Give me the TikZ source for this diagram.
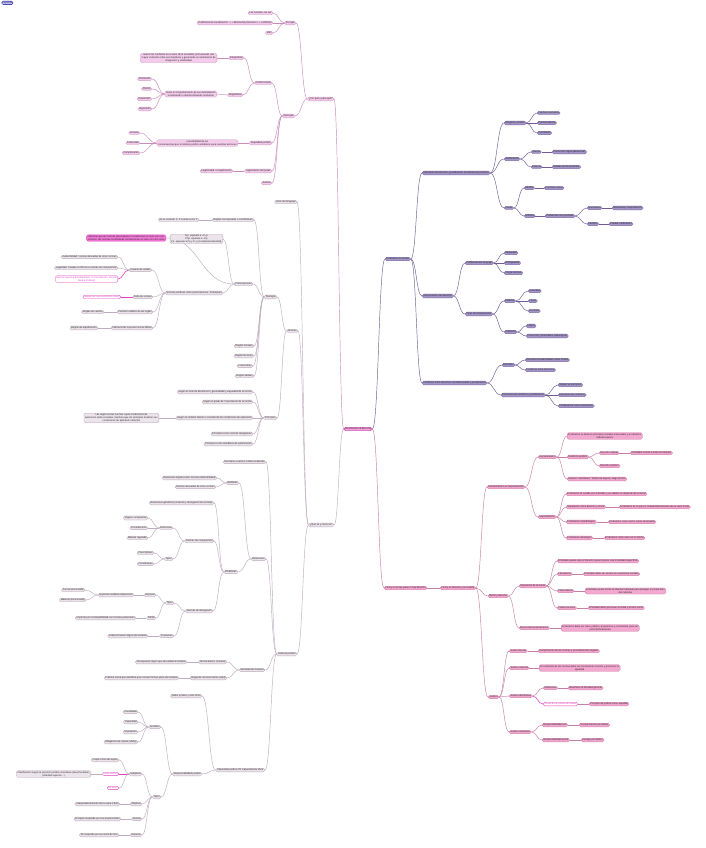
\documentclass[tikz,border=0pt]{standalone}
\usepackage{fontspec}
\setmainfont{Liberation Sans}
\usetikzlibrary{calc,backgrounds}
\definecolor{pkF}{HTML}{F2CCEA}\definecolor{pkD}{HTML}{D49CC8}\definecolor{pkE}{HTML}{C98BBD}
\definecolor{grF}{HTML}{ECE4EB}\definecolor{grD}{HTML}{B9AAB9}\definecolor{grE}{HTML}{BDAEBE}
\definecolor{puF}{HTML}{A596C8}\definecolor{puD}{HTML}{7B6AA4}\definecolor{puE}{HTML}{6D5D92}
\definecolor{prF}{HTML}{F3A8CF}\definecolor{prD}{HTML}{D080AA}\definecolor{prE}{HTML}{C77FA3}
\definecolor{mgF}{HTML}{F27AD8}\definecolor{mgD}{HTML}{E040C0}
\definecolor{rtF}{HTML}{F5A3DC}\definecolor{rtD}{HTML}{D35BB5}
\tikzset{
 base/.style={rounded corners=1.5pt, inner ysep=0.7pt, inner xsep=1.3pt, line width=0.3pt, align=center,
   font=\fontsize{2.45}{2.9}\selectfont, text=black!85},
 pk/.style={base, fill=pkF, draw=pkD, anchor=east},
 gr/.style={base, fill=grF, draw=grD, anchor=east},
 pu/.style={base, fill=puF, draw=puD, anchor=west},
 pr/.style={base, fill=prF, draw=prD, anchor=west},
 olL/.style={base, fill=white, draw=mgD, text=mgD, anchor=east},
 olR/.style={base, fill=white, draw=mgD, text=mgD, anchor=west},
 mag/.style={base, fill=mgF, draw=mgD, line width=0.5pt, anchor=east},
 rootn/.style={base, fill=rtF, draw=rtD, line width=0.6pt},
 ePk/.style={draw=pkE, line width=0.45pt},
 eGr/.style={draw=grE, line width=0.45pt},
 ePu/.style={draw=puE, line width=0.45pt},
 ePr/.style={draw=prE, line width=0.45pt},
 eMg/.style={draw=mgD, line width=0.55pt},
}
\newcommand\mmL[3][]{\draw[#1] let \p1=(#2.west), \p2=(#3.east) in (\p1) .. controls ({(\x1+\x2)/2},\y1) and ({(\x1+\x2)/2},\y2) .. (\p2);}
\newcommand\mmR[3][]{\draw[#1] let \p1=(#2.east), \p2=(#3.west) in (\p1) .. controls ({(\x1+\x2)/2},\y1) and ({(\x1+\x2)/2},\y2) .. (\p2);}
\begin{document}
\begin{tikzpicture}[x=1pt,y=-1pt]
\useasboundingbox (0,0) rectangle (706,848);
\node[base, fill=blue!25, draw=blue!60!black, anchor=north west, inner sep=0.6pt] (leg) at (1.5,1) {\,Leyenda\,};
% root
\node[rootn] (root) at (358,429) {Introducción al derecho};
% ===== top-left branch
\node[pk] (porq) at (334,99) {¿Por qué y para qué?};
\node[pk] (pq) at (296,23) {Por qué};
\node[pk] (pq1) at (273,13) {Los sociales, los ser};
\node[pk] (pq2) at (273,23) {Problemas de coordinación: + + dilema del prisionero + + conflictos};
\node[pk] (pq3) at (273,33) {Vies};
\node[pk] (pa) at (295,116) {Para qué};
\node[pk] (cs) at (272,83) {Control social};
\node[pk] (int) at (244,58) {Integradora};
\node[pk] (intd) at (217,58) {reducir los conflictos en el seno de la sociedad, promoviendo una\\mayor cohesión entre sus miembros y generando un sentimiento de\\integración y solidaridad};
\node[pk] (reg) at (243,95) {Reguladora};
\node[pk] (regd) at (217,94) {Guiar el comportamiento de sus destinatarios\\incentivando o desincentivando conductas};
\node[pk] (prom) at (152,79) {Promoción};
\node[pk] (prem) at (152,89) {Premio};
\node[pk] (prev) at (152,99) {Prevención};
\node[pk] (repr) at (152,109) {Represión};
\node[pk] (sj) at (272,143) {Seguridad jurídica};
\node[pk] (sjd) at (238,143) {previsibilidad de las\\consecuencias que el sistema jurídico establece para nuestras acciones};
\node[pk] (cer) at (140,133) {Certeza};
\node[pk] (pub) at (140,143) {Publicidad};
\node[pk] (cum) at (140,153) {Cumplimiento};
\node[pk] (lp) at (272,171) {Legitimación del poder};
\node[pk] (lpd) at (233,171) {Legitimidad \ vs legitimación};
\node[pk] (jus0) at (272,183) {Justicia};
% ===== lower-left branch
\node[gr] (que) at (334,525) {¿Qué es y cómo es?};
\node[gr] (usos) at (297,202) {Usos del lenguaje};
\node[gr] (nor) at (298,331) {Normas};
\node[gr] (tip) at (277,297) {Tipología};
\node[gr] (rcc) at (254,220) {Reglas conceptuales o constitutivas};
\node[gr] (rccd) at (199,220) {En el contexto C, X cuenta como Y};
\node[gr] (pre) at (253,284) {Prescripciones};
\node[gr] (op) at (223,239) {Op: equivale a ¬P¬p\\Php: equivale a ¬Pp\\Fp: equivale a Pp y P¬p (complementariedad)};
\node[mag] (mag) at (166,238) {Mientras que las normas prescriptivas correlacionan un caso con una\\solución, las normas constitutivas correlacionan un caso con otro caso};
\node[gr] (njp) at (223,293) {Normas jurídicas como prescripciones. Problemas};
\node[gr] (cv) at (152,270) {Cadena de validez};
\node[gr] (cv1) at (118,257) {Deducibilidad: normas derivadas de otras normas};
\node[gr] (cv2) at (118,268) {Legalidad: creadas conforme a normas de competencia};
\node[olL] (cv3) at (118,279) {Norma suprema (fundamental): la Constitución. Norma\\básica (Kelsen)};
\node[gr] (fc) at (153,297) {Falta de certeza};
\node[olL] (fcd) at (121,297) {Reglas de reconocimiento (Hart)};
\node[gr] (ce) at (153,312) {Carácter estático de las reglas};
\node[gr] (ced) at (104,312) {Reglas de cambio};
\node[gr] (ip) at (153,328) {Ineficacia de la presión social difusa};
\node[gr] (ipd) at (98,328) {Reglas de adjudicación};
\node[gr] (rm) at (254,346) {Reglas morales};
\node[gr] (rt) at (254,356) {Reglas técnicas};
\node[gr] (cos) at (253,366) {Costumbres};
\node[gr] (ri) at (254,376) {Reglas ideales};
\node[gr] (pri) at (277,418) {Principios};
\node[gr] (p1) at (253,392) {Según el nivel de abstracción, generalidad y vaguedad de la norma};
\node[gr] (p2) at (253,402) {Según el grado de `importancia' de la norma};
\node[gr] (p3) at (253,418) {Según el carácter abierto o cerrado de las condiciones de aplicación};
\node[gr] (p3d) at (159,418) {Las reglas serían normas cuyas condiciones de\\aplicación están cerradas, mientras que los principios tendrían sus\\condiciones de aplicación abiertas};
\node[gr] (p4) at (253,434) {Principios como normas categóricas};
\node[gr] (p5) at (253,444) {Principios como mandatos de optimización};
\node[gr] (sis) at (297,654) {Sistema jurídico};
\node[gr] (nci) at (266,462) {Normativo coactivo institucionalizado};
\node[gr] (rel) at (266,559) {Relaciones};
\node[gr] (est) at (239,483) {Estáticas};
\node[gr] (est1) at (217,478) {Relaciones lógicas entre normas (deducibilidad)};
\node[gr] (est2) at (216,487) {Normas derivadas de otras normas};
\node[gr] (din) at (238,572) {Dinámicas};
\node[gr] (din1) at (214,503) {Relaciones genéticas (creación y derogación de normas)};
\node[gr] (nc) at (214,541) {Normas de competencia};
\node[gr] (ncs) at (173,528) {Estructura};
\node[gr] (oc) at (148,518) {Órgano competente};
\node[gr] (proc) at (148,528) {Procedimiento};
\node[gr] (mat) at (148,538) {Materia regulada};
\node[gr] (nct) at (173,559) {Tipos};
\node[gr] (pres) at (154,553) {Prescriptivas};
\node[gr] (cons) at (154,564) {Constitutivas};
\node[gr] (nd) at (213,611) {Normas de derogación};
\node[gr] (ndt) at (174,603) {Tipos};
\node[gr] (exp) at (156,595) {Expresa};
\node[gr] (expd) at (134,595) {Explícita mediante disposición};
\node[gr] (fn) at (85,590) {Formal (nominada)};
\node[gr] (mi) at (86,600) {Material (innominada)};
\node[gr] (tac) at (156,618) {Tácita};
\node[gr] (tacd) at (136,618) {Implícita por incompatibilidad con normas posteriores};
\node[gr] (ndp) at (174,636) {Problemas};
\node[gr] (ndpd) at (148,636) {Indeterminación lógica del sistema};
\node[gr] (ids) at (265,670) {Identidad del sistema};
\node[gr] (nb) at (227,662) {Norma básica \ (Kelsen)};
\node[gr] (nbd) at (187,662) {Presupuesto lógico que da unidad al sistema};
\node[gr] (rr) at (227,678) {Regla de reconocimiento (Hart)};
\node[gr] (rrd) at (179,678) {Práctica social que identifica qué normas forman parte del sistema};
\node[gr] (cap) at (265,770) {Capacidad jurídica VS Capacidad de obrar};
\node[gr] (deb) at (202,696) {Deber jurídico y acto ilícito};
\node[gr] (rj) at (202,774) {Responsabilidad jurídica};
\node[gr] (sen) at (161,727) {Sentidos};
\node[gr] (s1) at (138,712) {Causalidad};
\node[gr] (s2) at (138,722) {Capacidad};
\node[gr] (s3) at (138,732) {Imputación};
\node[gr] (s4) at (138,742) {Obligación de reparar (daño)};
\node[gr] (rt2) at (161,797) {Tipos};
\node[gr] (sub) at (142,774) {Subjetiva};
\node[gr] (sub1) at (119,760) {Culpa o dolo del sujeto};
\node[olL] (hk) at (119,774) {Hans Kelsen};
\node[gr] (hkd) at (91,774) {Clasificación según la posición jurídica correlativa (derecho-deber,\\potestad-sujeción...)};
\node[olL] (ar) at (119,788) {Alf Ross};
\node[gr] (obj) at (142,804) {Objetiva};
\node[gr] (objd) at (120,804) {Independientemente de la culpa o dolo};
\node[gr] (dir) at (142,819) {Directa};
\node[gr] (dird) at (121,819) {El sujeto responde por sus propios actos};
\node[gr] (ind) at (142,835) {Indirecta};
\node[gr] (indd) at (119,835) {Se responde por los actos de otro};
% ===== right purple branch
\node[pu] (acc) at (385,259) {El derecho en acción};
\node[pu] (apl) at (422,173) {Aplicación del derecho y justificación de decisiones jurídicas};
\node[pu] (sil) at (504,123) {Silogismo jurídico};
\node[pu] (sil1) at (537,113) {Premisa normativa};
\node[pu] (sil2) at (537,123) {Premisa fáctica};
\node[pu] (sil3) at (537,133) {Conclusión};
\node[pu] (jf) at (504,159) {Justificación};
\node[pu] (jfi) at (531,152) {Interna};
\node[pu] (jfid) at (552,152) {Corrección lógica (deductiva)};
\node[pu] (jfe) at (531,167) {Externa};
\node[pu] (jfed) at (552,167) {Solidez de las premisas};
\node[pu] (cas) at (504,208) {Casos};
\node[pu] (caf) at (524,188) {Fáciles};
\node[pu] (cafd) at (544,188) {Premisas claras};
\node[pu] (cad) at (524,216) {Difíciles};
\node[pu] (cadd) at (545,216) {Problemas con premisas};
\node[pu] (cn) at (587,208) {Normativos};
\node[pu] (cnd) at (612,208) {Relevancia, interpretación};
\node[pu] (cfa) at (587,224) {Fácticos};
\node[pu] (cfad) at (609,224) {Prueba, calificación};
\node[pu] (itp) at (422,296) {Interpretación del derecho};
\node[pu] (pl) at (465,263) {Problemas del lenguaje};
\node[pu] (pl1) at (504,253) {Vaguedad};
\node[pu] (pl2) at (504,263) {Ambigüedad};
\node[pu] (pl3) at (504,273) {Carga emotiva};
\node[pu] (ti) at (465,314) {Tipos de interpretación};
\node[pu] (te) at (504,301) {Estática};
\node[pu] (te1) at (528,291) {Autoridad};
\node[pu] (te2) at (528,301) {Literal};
\node[pu] (te3) at (528,311) {Doctrinal};
\node[pu] (tdn) at (504,332) {Dinámica};
\node[pu] (td1) at (526,326) {Lógica};
\node[pu] (td2) at (526,336) {Corrección (sistemática, teleológica)};
\node[pu] (con) at (422,383) {Conflictos entre derechos constitucionales y ponderación};
\node[pu] (ej) at (502,365) {Ejemplos};
\node[pu] (ej1) at (525,360) {Derechos fundamentales como límites};
\node[pu] (ej2) at (525,370) {Conflictos entre derechos};
\node[pu] (ecp) at (501,395) {Estructura de conflictos y ponderación};
\node[pu] (ecp1) at (558,385) {Reglas vs principios};
\node[pu] (ecp2) at (558,395) {Estructura de conflictos};
\node[pu] (ecp3) at (558,406) {Ponderación como mecanismo};
% ===== right pink branch
\node[pr] (ley) at (384,588) {La ley no es ley para no hay derecho};
\node[pr] (ldj) at (440,588) {La ley, el Derecho y la Justicia};
\node[pr] (ivi) at (487,487) {Iusnaturalismo vs Iuspositivismo};
\node[pr] (inat) at (538,457) {Iusnaturalismo};
\node[pr] (inat1) at (567,436) {El derecho se basa en principios morales universales y un derecho\\natural superior};
\node[pr] (dual) at (567,457) {Dualismo jurídico};
\node[pr] (dn) at (599,453) {Derecho natural};
\node[pr] (dnd) at (630,453) {Inmutable común a todo ser humano};
\node[pr] (dp) at (599,466) {Derecho positivo};
\node[pr] (aut) at (567,479) {Autores: aristotélico, Tomás de Aquino, Hugo Grocio};
\node[pr] (ipos) at (538,517) {Iuspositivismo};
\node[pr] (ipos1) at (566,494) {El derecho es creado por el Estado y su validez no depende de la moral};
\node[pr] (sep) at (566,507) {Separación entre derecho y moral};
\node[pr] (sepd) at (619,507) {El derecho es lo que es, independientemente de su valor moral};
\node[pr] (pm) at (566,522) {Positivismo metodológico};
\node[pr] (pmd) at (608,522) {El derecho como hecho social observable};
\node[pr] (pid) at (566,538) {Positivismo ideológico};
\node[pr] (pidd) at (604,538) {El derecho como valor en sí mismo};
\node[pr] (myd) at (488,596) {Moral y derecho};
\node[pr] (imp) at (519,586) {Imposición de la moral};
\node[pr] (imp1) at (557,561) {El Estado puede usar el Derecho para imponer una moralidad específica};
\node[pr] (lib) at (557,574) {Liberalismo};
\node[pr] (libd) at (583,574) {El Estado debe ser neutral en cuestiones morales};
\node[pr] (pat) at (557,591) {Paternalismo};
\node[pr] (patd) at (585,591) {El Estado puede limitar la libertad individual para proteger el propio bien\\del individuo};
\node[pr] (per) at (557,608) {Perfeccionismo};
\node[pr] (perd) at (588,608) {El Estado debe promover la virtud y el bien moral};
\node[pr] (mid) at (519,628) {Moral interna del derecho};
\node[pr] (midd) at (561,628) {El derecho debe ser claro, público, prospectivo y consistente para ser\\justo (formalmente)};
\node[pr] (jus) at (488,697) {Justicia};
\node[pr] (jfo) at (509,651) {Justicia formal};
\node[pr] (jfod) at (538,651) {Cumplimiento de las normas y procedimientos legales};
\node[pr] (jma) at (509,668) {Justicia material};
\node[pr] (jmad) at (539,668) {El contenido de las normas debe ser moralmente correcto y promover la\\igualdad};
\node[pr] (jdi) at (509,696) {Justicia distributiva};
\node[pr] (uti) at (543,688) {Utilitarismo};
\node[pr] (utid) at (568,688) {Maximizar la felicidad general};
\node[olR] (raw) at (543,704) {Teoría de la justicia de Rawls};
\node[pr] (rawd) at (589,704) {Principio de justicia como equidad};
\node[pr] (jre) at (509,732) {Justicia retributiva};
\node[pr] (rc) at (542,725) {Responsabilidad civil};
\node[pr] (rcd) at (579,725) {Compensación por daños};
\node[pr] (rpn) at (542,740) {Responsabilidad penal};
\node[pr] (rpnd) at (581,740) {Castigo por delitos};
% ===== edges
\begin{pgfonlayer}{background}
\fill[white] (0,0) rectangle (706,848);
\mmL[ePk]{root}{porq}
\mmL[eGr]{root}{que}
\mmR[ePu]{root}{acc}
\mmR[ePr]{root}{ley}
% top-left
\mmL[ePk]{porq}{pq}\mmL[ePk]{porq}{pa}
\mmL[ePk]{pq}{pq1}\mmL[ePk]{pq}{pq2}\mmL[ePk]{pq}{pq3}
\mmL[ePk]{pa}{cs}\mmL[ePk]{pa}{sj}\mmL[ePk]{pa}{lp}\mmL[ePk]{pa}{jus0}
\mmL[ePk]{cs}{int}\mmL[ePk]{cs}{reg}
\mmL[ePk]{int}{intd}\mmL[ePk]{reg}{regd}
\mmL[ePk]{regd}{prom}\mmL[ePk]{regd}{prem}\mmL[ePk]{regd}{prev}\mmL[ePk]{regd}{repr}
\mmL[ePk]{sj}{sjd}
\mmL[ePk]{sjd}{cer}\mmL[ePk]{sjd}{pub}\mmL[ePk]{sjd}{cum}
\mmL[ePk]{lp}{lpd}
% lower-left
\mmL[eGr]{que}{usos}\mmL[eGr]{que}{nor}\mmL[eGr]{que}{sis}
\mmL[eGr]{nor}{tip}\mmL[eGr]{nor}{pri}
\mmL[eGr]{tip}{rcc}\mmL[eGr]{tip}{pre}\mmL[eGr]{tip}{rm}\mmL[eGr]{tip}{rt}\mmL[eGr]{tip}{cos}\mmL[eGr]{tip}{ri}
\mmL[eGr]{rcc}{rccd}
\mmL[eGr]{pre}{op}\mmL[eGr]{pre}{mag}\mmL[eGr]{pre}{njp}
\mmL[eGr]{njp}{cv}\mmL[eGr]{njp}{fc}\mmL[eGr]{njp}{ce}\mmL[eGr]{njp}{ip}
\mmL[eGr]{cv}{cv1}\mmL[eGr]{cv}{cv2}\mmL[eMg]{cv}{cv3}
\mmL[eMg]{fc}{fcd}\mmL[eGr]{ce}{ced}\mmL[eGr]{ip}{ipd}
\mmL[eGr]{pri}{p1}\mmL[eGr]{pri}{p2}\mmL[eGr]{pri}{p3}\mmL[eGr]{pri}{p4}\mmL[eGr]{pri}{p5}
\mmL[eGr]{p3}{p3d}
\mmL[eGr]{sis}{nci}\mmL[eGr]{sis}{rel}\mmL[eGr]{sis}{ids}\mmL[eGr]{sis}{cap}
\mmL[eGr]{rel}{est}\mmL[eGr]{rel}{din}
\mmL[eGr]{est}{est1}\mmL[eGr]{est}{est2}
\mmL[eGr]{din}{din1}\mmL[eGr]{din}{nc}\mmL[eGr]{din}{nd}
\mmL[eGr]{nc}{ncs}\mmL[eGr]{nc}{nct}
\mmL[eGr]{ncs}{oc}\mmL[eGr]{ncs}{proc}\mmL[eGr]{ncs}{mat}
\mmL[eGr]{nct}{pres}\mmL[eGr]{nct}{cons}
\mmL[eGr]{nd}{ndt}\mmL[eGr]{nd}{ndp}
\mmL[eGr]{ndt}{exp}\mmL[eGr]{ndt}{tac}
\mmL[eGr]{exp}{expd}\mmL[eGr]{expd}{fn}\mmL[eGr]{expd}{mi}
\mmL[eGr]{tac}{tacd}\mmL[eGr]{ndp}{ndpd}
\mmL[eGr]{ids}{nb}\mmL[eGr]{ids}{rr}
\mmL[eGr]{nb}{nbd}\mmL[eGr]{rr}{rrd}
\mmL[eGr]{cap}{deb}\mmL[eGr]{cap}{rj}
\mmL[eGr]{rj}{sen}\mmL[eGr]{rj}{rt2}
\mmL[eGr]{sen}{s1}\mmL[eGr]{sen}{s2}\mmL[eGr]{sen}{s3}\mmL[eGr]{sen}{s4}
\mmL[eGr]{rt2}{sub}\mmL[eGr]{rt2}{obj}\mmL[eGr]{rt2}{dir}\mmL[eGr]{rt2}{ind}
\mmL[eGr]{sub}{sub1}\mmL[eMg]{sub}{hk}\mmL[eGr]{sub}{ar}
\mmL[eGr]{hk}{hkd}
\mmL[eGr]{obj}{objd}\mmL[eGr]{dir}{dird}\mmL[eGr]{ind}{indd}
% right purple
\mmR[ePu]{acc}{apl}\mmR[ePu]{acc}{itp}\mmR[ePu]{acc}{con}
\mmR[ePu]{apl}{sil}\mmR[ePu]{apl}{jf}\mmR[ePu]{apl}{cas}
\mmR[ePu]{sil}{sil1}\mmR[ePu]{sil}{sil2}\mmR[ePu]{sil}{sil3}
\mmR[ePu]{jf}{jfi}\mmR[ePu]{jf}{jfe}\mmR[ePu]{jfi}{jfid}\mmR[ePu]{jfe}{jfed}
\mmR[ePu]{cas}{caf}\mmR[ePu]{cas}{cad}\mmR[ePu]{caf}{cafd}\mmR[ePu]{cad}{cadd}
\mmR[ePu]{cadd}{cn}\mmR[ePu]{cadd}{cfa}\mmR[ePu]{cn}{cnd}\mmR[ePu]{cfa}{cfad}
\mmR[ePu]{itp}{pl}\mmR[ePu]{itp}{ti}
\mmR[ePu]{pl}{pl1}\mmR[ePu]{pl}{pl2}\mmR[ePu]{pl}{pl3}
\mmR[ePu]{ti}{te}\mmR[ePu]{ti}{tdn}
\mmR[ePu]{te}{te1}\mmR[ePu]{te}{te2}\mmR[ePu]{te}{te3}
\mmR[ePu]{tdn}{td1}\mmR[ePu]{tdn}{td2}
\mmR[ePu]{con}{ej}\mmR[ePu]{con}{ecp}
\mmR[ePu]{ej}{ej1}\mmR[ePu]{ej}{ej2}
\mmR[ePu]{ecp}{ecp1}\mmR[ePu]{ecp}{ecp2}\mmR[ePu]{ecp}{ecp3}
% right pink
\mmR[ePr]{ley}{ldj}
\mmR[ePr]{ldj}{ivi}\mmR[ePr]{ldj}{myd}\mmR[ePr]{ldj}{jus}
\mmR[ePr]{ivi}{inat}\mmR[ePr]{ivi}{ipos}
\mmR[ePr]{inat}{inat1}\mmR[ePr]{inat}{dual}\mmR[ePr]{inat}{aut}
\mmR[ePr]{dual}{dn}\mmR[ePr]{dual}{dp}\mmR[ePr]{dn}{dnd}
\mmR[ePr]{ipos}{ipos1}\mmR[ePr]{ipos}{sep}\mmR[ePr]{ipos}{pm}\mmR[ePr]{ipos}{pid}
\mmR[ePr]{sep}{sepd}\mmR[ePr]{pm}{pmd}\mmR[ePr]{pid}{pidd}
\mmR[ePr]{myd}{imp}\mmR[ePr]{myd}{mid}
\mmR[ePr]{imp}{imp1}\mmR[ePr]{imp}{lib}\mmR[ePr]{imp}{pat}\mmR[ePr]{imp}{per}
\mmR[ePr]{lib}{libd}\mmR[ePr]{pat}{patd}\mmR[ePr]{per}{perd}
\mmR[ePr]{mid}{midd}
\mmR[ePr]{jus}{jfo}\mmR[ePr]{jus}{jma}\mmR[ePr]{jus}{jdi}\mmR[ePr]{jus}{jre}
\mmR[ePr]{jfo}{jfod}\mmR[ePr]{jma}{jmad}
\mmR[ePr]{jdi}{uti}\mmR[eMg]{jdi}{raw}\mmR[ePr]{uti}{utid}\mmR[ePr]{raw}{rawd}
\mmR[ePr]{jre}{rc}\mmR[ePr]{jre}{rpn}\mmR[ePr]{rc}{rcd}\mmR[ePr]{rpn}{rpnd}
\end{pgfonlayer}
\end{tikzpicture}
\end{document}
